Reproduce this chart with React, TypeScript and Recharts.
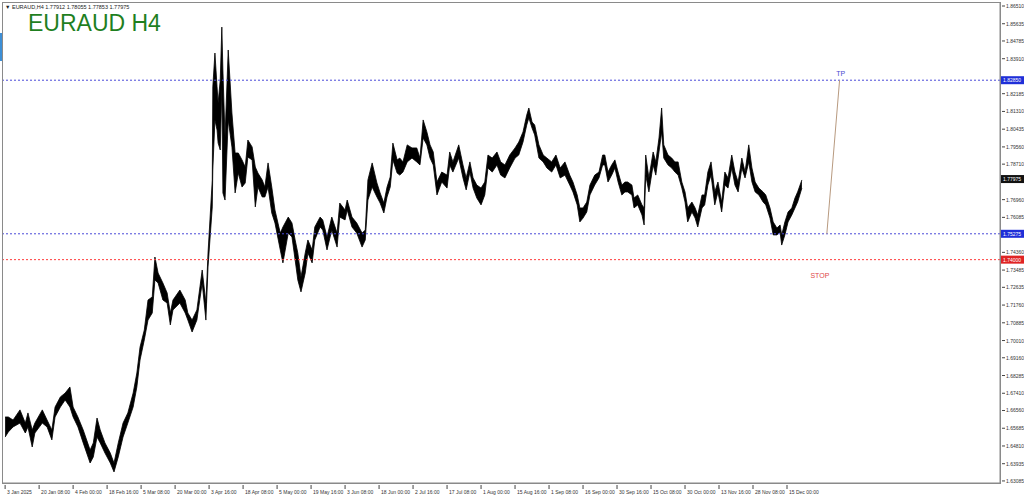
import React from 'react';
import { ComposedChart, Area, XAxis, YAxis, ReferenceLine, ReferenceDot } from 'recharts';

// bar index (H4 bars from 3 Jan 2025) for each sampled column of the price ribbon
const bars = [
  0, 6, 15, 28, 38, 43, 51, 56, 70, 79,
  88, 94, 104, 113, 122, 128, 137, 147, 160, 166,
  173, 179, 188, 198, 205, 213, 222, 231, 241, 248,
  254, 262, 269, 277, 282, 288, 297, 305, 311, 316,
  329, 339, 344, 352, 361, 371, 378, 382, 390, 391,
  395, 399, 401, 405, 408, 410, 414, 420, 427, 433,
  439, 446, 452, 457, 465, 471, 476, 484, 489, 495,
  502, 508, 518, 523, 533, 540, 546, 551, 557, 565,
  570, 578, 583, 593, 598, 606, 615, 625, 630, 640,
  644, 653, 662, 672, 678, 683, 691, 700, 706, 713,
  719, 725, 730, 738, 743, 749, 757, 766, 775, 781,
  787, 794, 800, 806, 813, 822, 832, 837, 843, 854,
  862, 868, 875, 881, 888, 896, 903, 909, 917, 926,
  933, 941, 950, 960, 967, 975, 982, 986, 992, 997,
  1005, 1013, 1020, 1029, 1037, 1045, 1054, 1063, 1069, 1077,
  1082, 1088, 1095, 1101, 1110, 1118, 1125, 1129, 1135, 1142,
  1148, 1154, 1161, 1167, 1172, 1180, 1184, 1191, 1199, 1203,
  1206, 1212, 1220, 1225, 1231, 1236, 1240, 1248, 1255, 1261,
  1267, 1274, 1280, 1285, 1293, 1299, 1304, 1312, 1317, 1323,
  1329, 1336, 1342, 1349, 1355, 1361, 1368, 1374, 1380, 1387,
  1393, 1400, 1406, 1412, 1419, 1427, 1432, 1440, 1446, 1453,
  1459, 1462, 1468, 1474, 1481, 1487, 1492, 1500,
];

const highs = [
  1.6624, 1.6624, 1.6609, 1.6659, 1.6594, 1.6644, 1.6560, 1.6594, 1.6659, 1.6609,
  1.6560, 1.6673, 1.6723, 1.6742, 1.6772, 1.6673, 1.6624, 1.6560, 1.6461, 1.6496,
  1.6619, 1.6560, 1.6496, 1.6446, 1.6397, 1.6496, 1.6594, 1.6644, 1.6742, 1.6841,
  1.6969, 1.7053, 1.7201, 1.7216, 1.7413, 1.7334, 1.7285, 1.7236, 1.7137, 1.7201,
  1.7250, 1.7201, 1.7137, 1.7102, 1.7152, 1.7349, 1.7186, 1.7433, 1.7793, 1.8252,
  1.8419, 1.8252, 1.8173, 1.8286, 1.8547, 1.8335, 1.8005, 1.8434, 1.8123, 1.7926,
  1.7926, 1.7892, 1.7857, 1.7990, 1.7956, 1.7857, 1.7827, 1.7793, 1.7758, 1.7877,
  1.7758, 1.7645, 1.7531, 1.7561, 1.7610, 1.7581, 1.7497, 1.7433, 1.7314, 1.7433,
  1.7497, 1.7448, 1.7561, 1.7610, 1.7596, 1.7512, 1.7610, 1.7531, 1.7679, 1.7645,
  1.7694, 1.7610, 1.7581, 1.7531, 1.7546, 1.7793, 1.7877, 1.7778, 1.7729, 1.7679,
  1.7758, 1.7808, 1.7975, 1.7892, 1.7901, 1.7882, 1.7966, 1.7951, 1.7951, 1.7901,
  1.8089, 1.8030, 1.7966, 1.7931, 1.7783, 1.7832, 1.7817, 1.7931, 1.7882, 1.7966,
  1.7867, 1.7803, 1.7882, 1.7803, 1.7768, 1.7753, 1.7783, 1.7916, 1.7901, 1.7931,
  1.7882, 1.7867, 1.7916, 1.7951, 1.7980, 1.8030, 1.8113, 1.8148, 1.8079, 1.8064,
  1.7966, 1.7916, 1.7901, 1.7882, 1.7916, 1.7852, 1.7882, 1.7817, 1.7783, 1.7719,
  1.7655, 1.7655, 1.7684, 1.7768, 1.7817, 1.7832, 1.7916, 1.7916, 1.7832, 1.7867,
  1.7892, 1.7832, 1.7768, 1.7783, 1.7783, 1.7768, 1.7704, 1.7719, 1.7670, 1.7655,
  1.7916, 1.7803, 1.7931, 1.7882, 1.8000, 1.8148, 1.7966, 1.7916, 1.7901, 1.7882,
  1.7882, 1.7783, 1.7734, 1.7655, 1.7684, 1.7655, 1.7620, 1.7719, 1.7719, 1.7832,
  1.7882, 1.7734, 1.7783, 1.7684, 1.7832, 1.7803, 1.7916, 1.7832, 1.7783, 1.7901,
  1.7832, 1.7966, 1.7852, 1.7783, 1.7753, 1.7734, 1.7719, 1.7655, 1.7586, 1.7556,
  1.7571, 1.7522, 1.7586, 1.7635, 1.7655, 1.7704, 1.7734, 1.7793,
];

const lows = [
  1.6525, 1.6550, 1.6575, 1.6594, 1.6545, 1.6575, 1.6476, 1.6545, 1.6594, 1.6575,
  1.6511, 1.6624, 1.6673, 1.6708, 1.6673, 1.6624, 1.6575, 1.6496, 1.6397, 1.6427,
  1.6525, 1.6496, 1.6446, 1.6397, 1.6353, 1.6427, 1.6525, 1.6594, 1.6673, 1.6772,
  1.6905, 1.7004, 1.7102, 1.7137, 1.7300, 1.7285, 1.7201, 1.7186, 1.7078, 1.7152,
  1.7186, 1.7137, 1.7102, 1.7043, 1.7102, 1.7285, 1.7102, 1.7364, 1.7660, 1.7842,
  1.8089, 1.8039, 1.7975, 1.7941, 1.8252, 1.7729, 1.7694, 1.8089, 1.7956, 1.7729,
  1.7827, 1.7758, 1.7778, 1.7906, 1.7892, 1.7660, 1.7758, 1.7709, 1.7709, 1.7758,
  1.7630, 1.7581, 1.7448, 1.7384, 1.7531, 1.7512, 1.7398, 1.7300, 1.7241, 1.7334,
  1.7433, 1.7384, 1.7497, 1.7561, 1.7546, 1.7448, 1.7546, 1.7462, 1.7610, 1.7596,
  1.7645, 1.7561, 1.7531, 1.7462, 1.7497, 1.7694, 1.7758, 1.7709, 1.7679, 1.7630,
  1.7709, 1.7758, 1.7892, 1.7827, 1.7817, 1.7832, 1.7882, 1.7901, 1.7882, 1.7867,
  1.8000, 1.7966, 1.7901, 1.7867, 1.7719, 1.7783, 1.7753, 1.7867, 1.7832, 1.7901,
  1.7803, 1.7744, 1.7832, 1.7753, 1.7704, 1.7670, 1.7719, 1.7852, 1.7832, 1.7867,
  1.7817, 1.7803, 1.7852, 1.7901, 1.7916, 1.7980, 1.8064, 1.8099, 1.8049, 1.8015,
  1.7901, 1.7882, 1.7852, 1.7832, 1.7867, 1.7803, 1.7817, 1.7768, 1.7734, 1.7670,
  1.7586, 1.7605, 1.7635, 1.7719, 1.7768, 1.7803, 1.7867, 1.7867, 1.7783, 1.7817,
  1.7852, 1.7783, 1.7719, 1.7734, 1.7734, 1.7719, 1.7655, 1.7670, 1.7620, 1.7571,
  1.7817, 1.7734, 1.7867, 1.7817, 1.7931, 1.8030, 1.7901, 1.7867, 1.7852, 1.7832,
  1.7817, 1.7753, 1.7684, 1.7586, 1.7635, 1.7605, 1.7561, 1.7655, 1.7670, 1.7768,
  1.7817, 1.7670, 1.7734, 1.7635, 1.7768, 1.7753, 1.7852, 1.7768, 1.7734, 1.7852,
  1.7803, 1.7882, 1.7783, 1.7734, 1.7719, 1.7684, 1.7670, 1.7605, 1.7522, 1.7522,
  1.7536, 1.7472, 1.7522, 1.7586, 1.7620, 1.7655, 1.7684, 1.7753,
];

const timeTicks = [0, 64, 128, 192, 256, 320, 384, 448, 512, 576, 640, 704, 768, 832, 896, 960, 1024, 1088, 1152, 1216, 1280, 1344, 1408, 1472];
const timeLabels = [
  '3 Jan 2025', '20 Jan 08:00', '4 Feb 00:00', '18 Feb 16:00', '5 Mar 08:00', '20 Mar 00:00',
  '3 Apr 16:00', '18 Apr 08:00', '5 May 00:00', '19 May 16:00', '3 Jun 08:00', '18 Jun 00:00',
  '2 Jul 16:00', '17 Jul 08:00', '1 Aug 00:00', '15 Aug 16:00', '1 Sep 08:00', '16 Sep 00:00',
  '30 Sep 16:00', '15 Oct 08:00', '30 Oct 00:00', '13 Nov 16:00', '28 Nov 08:00', '15 Dec 00:00',
];

// 1.83035, 1.77835 and 1.75210 sit under the price tags, so they are left out
const priceTicks = [
  1.8651, 1.85635, 1.84785, 1.8391, 1.82185, 1.8131, 1.80435, 1.7956, 1.7871,
  1.7696, 1.76085, 1.7436, 1.73485, 1.72635, 1.7176, 1.70885, 1.7001, 1.6916,
  1.68285, 1.6741, 1.6656, 1.65685, 1.6481, 1.63935, 1.63085,
];

const tpPrice = 1.8285;
const entryPrice = 1.75275;
const stopPrice = 1.74;
const lastClose = 1.77975;
const planBars = [1547, 1571];
const planPrices = [entryPrice, tpPrice];
const tpLabelAt = [1573, 1.8316];
const stopLabelAt = [1534, 1.7324];

const data = bars.map((b, i) => ({ bar: b, range: [lows[i], highs[i]] }));

const axisFont = '"Liberation Sans", Arial, sans-serif';

const TimeTick = ({ x, y, payload }: any) => {
  const idx = timeTicks.indexOf(payload.value);
  return (
    <g>
      <line x1={x} y1={y} x2={x} y2={y + 4} stroke="#444" strokeWidth={1} />
      <text x={x + 2} y={y + 9} fontSize={5} fontFamily={axisFont} fill="#333" textAnchor="start">
        {timeLabels[idx]}
      </text>
    </g>
  );
};

const PriceTick = ({ x, y, payload }: any) => (
  <g>
    <line x1={x} y1={y} x2={x + 3} y2={y} stroke="#444" strokeWidth={1} />
    <text x={x + 4} y={y + 2} fontSize={5} fontFamily={axisFont} fill="#333" textAnchor="start">
      {payload.value.toFixed(5)}
    </text>
  </g>
);

const PriceTag = ({ viewBox, text, color }: any) => {
  if (!viewBox) return null;
  const x = viewBox.x + viewBox.width;
  const y = viewBox.y;
  return (
    <g>
      <rect x={x + 1} y={y - 4} width={23} height={8} fill={color} />
      <text x={x + 3} y={y + 2} fontSize={5} fontFamily={axisFont} fill="#fff">{text}</text>
    </g>
  );
};

export default function App() {
  return (
    <div style={{ position: 'absolute', left: 0, top: 0, width: 1024, height: 497, background: '#fff' }}>
      <ComposedChart width={1024} height={497} data={data} margin={{ top: 3, right: 0, left: 3, bottom: 0 }}>
        <XAxis
          dataKey="bar"
          type="number"
          domain={[-4, 1873]}
          allowDataOverflow
          ticks={timeTicks}
          interval={0}
          height={14}
          tickSize={0}
          tick={<TimeTick />}
          axisLine={{ stroke: '#888' }}
        />
        <YAxis
          orientation="right"
          type="number"
          domain={[1.62984, 1.86658]}
          allowDataOverflow
          ticks={priceTicks}
          interval={0}
          width={24}
          tickSize={0}
          tick={<PriceTick />}
          axisLine={{ stroke: '#888' }}
        />
        <ReferenceLine y={tpPrice} stroke="#4a4ad8" strokeDasharray="2 2" label={<PriceTag text="1.82850" color="#1f2fd8" />} />
        <ReferenceLine y={entryPrice} stroke="#4a4ad8" strokeDasharray="2 2" label={<PriceTag text="1.75275" color="#1f2fd8" />} />
        <ReferenceLine y={stopPrice} stroke="#ff3a3a" strokeDasharray="2 2" label={<PriceTag text="1.74000" color="#e02424" />} />
        <ReferenceLine y={lastClose} stroke="none" strokeOpacity={0} label={<PriceTag text="1.77975" color="#111" />} />
        <Area
          dataKey="range"
          type="linear"
          stroke="#000"
          strokeWidth={0.8}
          fill="#000"
          fillOpacity={1}
          isAnimationActive={false}
          dot={false}
          activeDot={false}
        />
        <ReferenceLine
          segment={[{ x: planBars[0], y: planPrices[0] }, { x: planBars[1], y: planPrices[1] }]}
          stroke="#b89a80"
          strokeWidth={1}
        />
        <ReferenceDot
          x={tpLabelAt[0]}
          y={tpLabelAt[1]}
          r={0}
          stroke="none"
          label={{ value: 'TP', fill: '#4a4ad0', fontSize: 7, fontFamily: axisFont }}
        />
        <ReferenceDot
          x={stopLabelAt[0]}
          y={stopLabelAt[1]}
          r={0}
          stroke="none"
          label={{ value: 'STOP', fill: '#e04848', fontSize: 7, fontFamily: axisFont }}
        />
      </ComposedChart>
      <div style={{ position: 'absolute', left: 2, top: 2, width: 999, height: 482, border: '1px solid #8a8a8a', boxSizing: 'border-box', pointerEvents: 'none' }} />
      <div style={{ position: 'absolute', left: 0, top: 33, width: 2, height: 28, background: '#3d8fd6' }} />
      <div style={{ position: 'absolute', left: 5, top: 4, fontSize: 5.5, fontFamily: axisFont, color: '#222', whiteSpace: 'nowrap', lineHeight: '7px' }}>
        ▼ EURAUD,H4  1.77912 1.78055 1.77853 1.77975
      </div>
      <div style={{ position: 'absolute', left: 28, top: 9, fontSize: 23, fontFamily: axisFont, color: '#1f7f1f', whiteSpace: 'nowrap', lineHeight: '28px' }}>
        EURAUD H4
      </div>
    </div>
  );
}
